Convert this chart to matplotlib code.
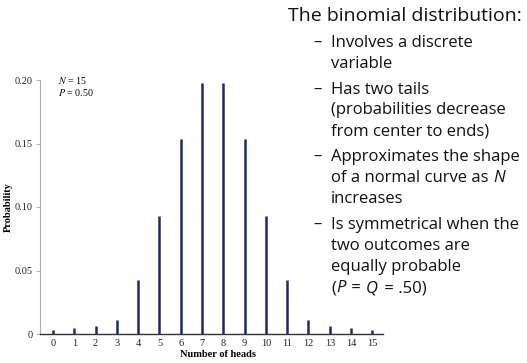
import matplotlib
matplotlib.use("Agg")
import matplotlib.pyplot as plt

heads = list(range(16))
probability = [0.0034, 0.005, 0.0063, 0.0108, 0.0423, 0.0927, 0.1533, 0.1976,
               0.1976, 0.1533, 0.0927, 0.0423, 0.0108, 0.006, 0.0047, 0.003]
yticks = [0, 0.05, 0.10, 0.15, 0.20]
ytick_labels = ["0", "0.05", "0.10", "0.15", "0.20"]

title_text = "The binomial distribution:"
# each line is a list of (text, italic) pieces
bullets = [
    [[("Involves a discrete", False)], [("variable", False)]],
    [[("Has two tails", False)], [("(probabilities decrease", False)], [("from center to ends)", False)]],
    [[("Approximates the shape", False)], [("of a normal curve as ", False), ("N", True)], [("increases", False)]],
    [[("Is symmetrical when the", False)], [("two outcomes are", False)], [("equally probable", False)],
     [("(", False), ("P", True), (" = ", False), ("Q", True), (" = .50)", False)]],
]

W, H = 527, 363
fig = plt.figure(figsize=(W / 100, H / 100), dpi=100)
fig.patch.set_facecolor("white")

ax = fig.add_axes([40 / W, 1 - 334 / H, (383 - 40) / W, (334 - 80) / H])
ax.vlines(heads, 0, probability, color="#1c2a6e", linewidth=1.8, clip_on=False)
ax.set_xlim(-0.61, 15.5)
ax.set_ylim(0, 0.20)
ax.set_yticks(yticks)
ax.set_yticklabels(ytick_labels)
ax.set_xticks(heads)
ax.set_xticklabels([str(h) for h in heads])
serif = "Liberation Serif"
for lab in ax.get_xticklabels() + ax.get_yticklabels():
    lab.set_fontfamily(serif)
    lab.set_fontsize(7.5)
    lab.set_color("#222222")
ax.tick_params(axis="x", length=0, pad=3.5)
ax.tick_params(axis="y", length=3, width=0.6, color="#aaaaaa", pad=2)
for s in ["top", "right"]:
    ax.spines[s].set_visible(False)
ax.spines["left"].set_color("#b0b0b0")
ax.spines["left"].set_linewidth(0.8)
ax.spines["bottom"].set_color("#333333")
ax.spines["bottom"].set_linewidth(1.0)
ax.set_xlabel("Number of heads", fontfamily=serif, fontweight="bold", fontsize=7.5)
ax.set_ylabel("Probability", fontfamily=serif, fontweight="bold", fontsize=7.5)
ax.xaxis.set_label_coords((218 - 40) / (383 - 40), -20.5 / 254)
ax.yaxis.set_label_coords(-(40 - 8) / 343, (334 - 207) / 254)
ax.yaxis.label.set_va("center")
ax.xaxis.label.set_va("center")

fig.text(58 / W, 1 - 81 / H, "$N$ = 15", fontfamily=serif, fontsize=7.2, va="center", ha="left",
         math_fontfamily="stix")
fig.text(58 / W, 1 - 92 / H, "$P$ = 0.50", fontfamily=serif, fontsize=7.2, va="center", ha="left",
         math_fontfamily="stix")

sans = "Open Sans"
txtcol = "#111111"
fig.text(288 / W, 1 - 16 / H, title_text, fontfamily=sans, fontsize=14.0, va="center", ha="left", color=txtcol)

renderer = fig.canvas.get_renderer()


def measure(s, ital):
    style = "italic" if ital else "normal"
    t1 = fig.text(0, 0, "x" + s + "x", fontfamily=sans, fontsize=12, fontstyle=style)
    t2 = fig.text(0, 0, "xx", fontfamily=sans, fontsize=12, fontstyle=style)
    w = t1.get_window_extent(renderer).width - t2.get_window_extent(renderer).width
    t1.remove()
    t2.remove()
    return w


y = 42.7
for bl in bullets:
    for i, line in enumerate(bl):
        if i == 0:
            fig.text(313 / W, 1 - y / H, "\u2013", fontfamily=sans, fontsize=12, va="center", ha="left", color=txtcol)
        x = 331.0
        for piece, ital in line:
            fig.text(x / W, 1 - y / H, piece, fontfamily=sans, fontsize=12, va="center", ha="left",
                     color=txtcol, fontstyle="italic" if ital else "normal")
            x += measure(piece, ital) + (2.0 if ital else 0.0)
        y += 21.0
    y += 4.8

fig.savefig("out.png", dpi=100)
